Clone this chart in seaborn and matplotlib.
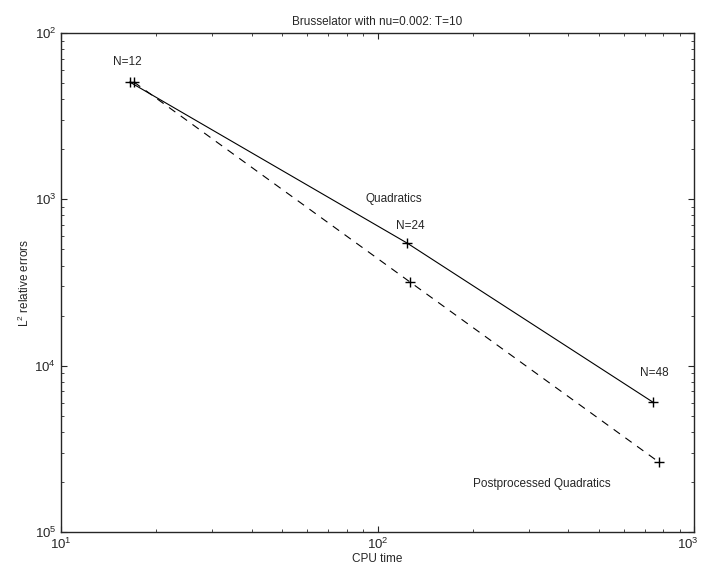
import numpy as np
import pandas as pd
import matplotlib
matplotlib.use("Agg")
import matplotlib.pyplot as plt
import matplotlib.transforms as mtransforms
import seaborn as sns

### data
N_values = [12, 24, 48]
cpu_quad = [16.5, 124.0, 741.0]
err_quad = [5.07e-3, 5.46e-4, 6.04e-5]
cpu_post = [17.0, 126.8, 775.0]
err_post = [5.07e-3, 3.18e-4, 2.63e-5]

ytick_vals = [1e-2, 1e-3, 1e-4, 1e-5]
ytick_text = ["$10^{2}$", "$10^{3}$", "$10^{4}$", "$10^{5}$"]
xtick_vals = [1e1, 1e2, 1e3]
xtick_text = ["$10^{1}$", "$10^{2}$", "$10^{3}$"]

sns.set_style("ticks")
plt.rcParams['font.family'] = ['Liberation Sans', 'DejaVu Sans']
plt.rcParams['mathtext.fontset'] = 'custom'
plt.rcParams['mathtext.rm'] = 'Liberation Sans'
plt.rcParams['mathtext.it'] = 'Liberation Sans'
plt.rcParams['mathtext.bf'] = 'Liberation Sans'

df_quad = pd.DataFrame({'cpu': cpu_quad, 'err': err_quad})
df_post = pd.DataFrame({'cpu': cpu_post, 'err': err_post})

fig = plt.figure(figsize=(7.02, 5.75), dpi=100)
ax = fig.add_axes([0.0869, 0.0748, 0.9017, 0.8678])
ax.set_xscale('log')
ax.set_yscale('log')

sns.lineplot(data=df_quad, x='cpu', y='err', ax=ax, color='black', linewidth=0.8,
             marker='+', markersize=7.5, markeredgewidth=1.0, markeredgecolor='black')
sns.lineplot(data=df_post, x='cpu', y='err', ax=ax, color='black', linewidth=0.8,
             linestyle=(0, (7, 6)), marker='+', markersize=7.5, markeredgewidth=1.0,
             markeredgecolor='black')

ax.set_xlim(10, 1000)
ax.set_ylim(1e-5, 1e-2)

# text labels on the chart
fs = 8.5
ax.text(16.2, 6.7e-3, "N=12", ha='center', va='center', fontsize=fs)
ax.text(126.8, 6.9e-4, "N=24", ha='center', va='center', fontsize=fs)
ax.text(748, 9.0e-5, "N=48", ha='center', va='center', fontsize=fs)
ax.text(112.7, 1.0e-3, "Quadratics", ha='center', va='center', fontsize=fs)
ax.text(547, 1.94e-5, "Postprocessed Quadratics", ha='right', va='center', fontsize=fs)

ax.set_xticks(xtick_vals)
ax.set_xticklabels(xtick_text)
ax.set_yticks(ytick_vals)
ax.set_yticklabels(ytick_text)
ax.tick_params(which='both', direction='in', top=True, right=True, labelsize=fs + 1)
ax.tick_params(which='major', length=4, width=0.8)
ax.tick_params(which='minor', length=2.5, width=0.6)
for s in ax.spines.values():
    s.set_linewidth(1.0)
    s.set_visible(True)

# keep the last x tick label inside the figure
last = ax.get_xticklabels()[-1]
last.set_transform(last.get_transform() + mtransforms.ScaledTranslation(-6 / 100, 0, fig.dpi_scale_trans))

ax.set_title("Brusselator with nu=0.002: T=10", fontsize=fs, pad=6)
ax.set_xlabel("CPU time", fontsize=fs, labelpad=1)
ax.set_ylabel("$\\mathregular{L^2}$ relative errors", fontsize=fs, labelpad=2)

plt.savefig("out.png", dpi=100)
